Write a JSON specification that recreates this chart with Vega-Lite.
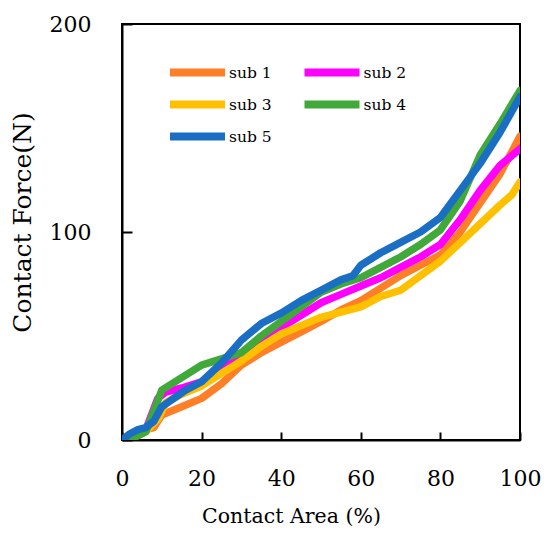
{
  "$schema": "https://vega.github.io/schema/vega-lite/v6.json",
  "width": 398,
  "height": 416,
  "autosize": {"type": "none"},
  "padding": {"left": 122, "top": 24, "right": 30, "bottom": 99},
  "background": "white",
  "data": {
    "values": [
      {"series": "sub 1", "area": 0, "force": 0},
      {"series": "sub 1", "area": 3, "force": 2},
      {"series": "sub 1", "area": 6, "force": 5},
      {"series": "sub 1", "area": 8, "force": 6},
      {"series": "sub 1", "area": 10, "force": 12},
      {"series": "sub 1", "area": 15, "force": 16},
      {"series": "sub 1", "area": 20, "force": 20},
      {"series": "sub 1", "area": 25, "force": 27},
      {"series": "sub 1", "area": 30, "force": 36},
      {"series": "sub 1", "area": 35, "force": 42},
      {"series": "sub 1", "area": 40, "force": 47},
      {"series": "sub 1", "area": 45, "force": 52},
      {"series": "sub 1", "area": 50, "force": 57},
      {"series": "sub 1", "area": 55, "force": 62.5},
      {"series": "sub 1", "area": 60, "force": 67},
      {"series": "sub 1", "area": 65, "force": 73},
      {"series": "sub 1", "area": 70, "force": 79},
      {"series": "sub 1", "area": 75, "force": 84},
      {"series": "sub 1", "area": 80, "force": 89},
      {"series": "sub 1", "area": 85, "force": 100},
      {"series": "sub 1", "area": 90, "force": 114},
      {"series": "sub 1", "area": 95, "force": 128},
      {"series": "sub 1", "area": 100, "force": 146},

      {"series": "sub 2", "area": 0, "force": 0},
      {"series": "sub 2", "area": 3, "force": 3},
      {"series": "sub 2", "area": 6, "force": 5},
      {"series": "sub 2", "area": 9, "force": 20},
      {"series": "sub 2", "area": 11, "force": 23},
      {"series": "sub 2", "area": 15, "force": 25},
      {"series": "sub 2", "area": 20, "force": 28},
      {"series": "sub 2", "area": 25, "force": 35},
      {"series": "sub 2", "area": 30, "force": 41},
      {"series": "sub 2", "area": 35, "force": 49},
      {"series": "sub 2", "area": 40, "force": 54},
      {"series": "sub 2", "area": 45, "force": 60},
      {"series": "sub 2", "area": 50, "force": 66},
      {"series": "sub 2", "area": 55, "force": 70},
      {"series": "sub 2", "area": 60, "force": 74},
      {"series": "sub 2", "area": 65, "force": 78},
      {"series": "sub 2", "area": 70, "force": 83},
      {"series": "sub 2", "area": 75, "force": 88},
      {"series": "sub 2", "area": 80, "force": 94},
      {"series": "sub 2", "area": 85, "force": 106},
      {"series": "sub 2", "area": 90, "force": 120},
      {"series": "sub 2", "area": 95, "force": 132},
      {"series": "sub 2", "area": 100, "force": 140},

      {"series": "sub 3", "area": 0, "force": 0},
      {"series": "sub 3", "area": 3, "force": 2},
      {"series": "sub 3", "area": 6, "force": 4},
      {"series": "sub 3", "area": 9, "force": 10},
      {"series": "sub 3", "area": 11, "force": 18},
      {"series": "sub 3", "area": 15, "force": 22},
      {"series": "sub 3", "area": 20, "force": 26},
      {"series": "sub 3", "area": 25, "force": 32},
      {"series": "sub 3", "area": 30, "force": 38},
      {"series": "sub 3", "area": 35, "force": 45},
      {"series": "sub 3", "area": 40, "force": 51},
      {"series": "sub 3", "area": 45, "force": 55},
      {"series": "sub 3", "area": 50, "force": 59},
      {"series": "sub 3", "area": 55, "force": 61.5},
      {"series": "sub 3", "area": 60, "force": 64},
      {"series": "sub 3", "area": 65, "force": 69},
      {"series": "sub 3", "area": 70, "force": 72},
      {"series": "sub 3", "area": 75, "force": 79},
      {"series": "sub 3", "area": 80, "force": 86},
      {"series": "sub 3", "area": 85, "force": 95},
      {"series": "sub 3", "area": 90, "force": 104},
      {"series": "sub 3", "area": 95, "force": 113},
      {"series": "sub 3", "area": 98, "force": 118},
      {"series": "sub 3", "area": 100, "force": 124},

      {"series": "sub 4", "area": 0, "force": 0},
      {"series": "sub 4", "area": 3, "force": 1},
      {"series": "sub 4", "area": 6, "force": 4},
      {"series": "sub 4", "area": 8, "force": 14},
      {"series": "sub 4", "area": 10, "force": 24},
      {"series": "sub 4", "area": 15, "force": 30},
      {"series": "sub 4", "area": 20, "force": 36},
      {"series": "sub 4", "area": 25, "force": 39},
      {"series": "sub 4", "area": 30, "force": 42},
      {"series": "sub 4", "area": 35, "force": 50},
      {"series": "sub 4", "area": 40, "force": 57},
      {"series": "sub 4", "area": 45, "force": 64},
      {"series": "sub 4", "area": 50, "force": 71},
      {"series": "sub 4", "area": 55, "force": 75},
      {"series": "sub 4", "area": 60, "force": 78},
      {"series": "sub 4", "area": 65, "force": 83},
      {"series": "sub 4", "area": 70, "force": 88},
      {"series": "sub 4", "area": 75, "force": 94},
      {"series": "sub 4", "area": 80, "force": 101},
      {"series": "sub 4", "area": 85, "force": 115},
      {"series": "sub 4", "area": 90, "force": 137},
      {"series": "sub 4", "area": 95, "force": 152},
      {"series": "sub 4", "area": 100, "force": 168},

      {"series": "sub 5", "area": 0, "force": 0},
      {"series": "sub 5", "area": 2, "force": 3},
      {"series": "sub 5", "area": 4, "force": 5},
      {"series": "sub 5", "area": 6, "force": 6},
      {"series": "sub 5", "area": 8, "force": 9},
      {"series": "sub 5", "area": 10, "force": 16},
      {"series": "sub 5", "area": 13, "force": 20},
      {"series": "sub 5", "area": 16, "force": 24},
      {"series": "sub 5", "area": 20, "force": 28},
      {"series": "sub 5", "area": 25, "force": 37},
      {"series": "sub 5", "area": 30, "force": 48},
      {"series": "sub 5", "area": 35, "force": 56},
      {"series": "sub 5", "area": 40, "force": 61},
      {"series": "sub 5", "area": 45, "force": 67},
      {"series": "sub 5", "area": 50, "force": 72},
      {"series": "sub 5", "area": 55, "force": 77},
      {"series": "sub 5", "area": 58, "force": 79},
      {"series": "sub 5", "area": 60, "force": 84},
      {"series": "sub 5", "area": 65, "force": 90},
      {"series": "sub 5", "area": 70, "force": 95},
      {"series": "sub 5", "area": 75, "force": 100},
      {"series": "sub 5", "area": 80, "force": 107},
      {"series": "sub 5", "area": 85, "force": 120},
      {"series": "sub 5", "area": 90, "force": 133},
      {"series": "sub 5", "area": 95, "force": 148},
      {"series": "sub 5", "area": 100, "force": 165}
    ]
  },
  "mark": {"type": "line", "strokeWidth": 7.5, "strokeCap": "round", "strokeJoin": "round", "clip": true},
  "encoding": {
    "x": {
      "field": "area",
      "type": "quantitative",
      "scale": {"domain": [0, 100], "nice": false},
      "axis": {
        "title": "Contact Area (%)",
        "values": [0, 20, 40, 60, 80, 100],
        "grid": false,
        "labelFlush": false,
        "tickSize": -8,
        "labelPadding": 36,
        "titleX": 169,
        "titleY": 82,
        "titleBaseline": "alphabetic",
        "titleFontSize": 20.5
      }
    },
    "y": {
      "field": "force",
      "type": "quantitative",
      "scale": {"domain": [0, 200], "nice": false},
      "axis": {
        "title": "Contact Force(N)",
        "values": [0, 100, 200],
        "grid": false,
        "labelFlush": false,
        "tickSize": -10,
        "labelPadding": 41,
        "titleX": -87,
        "titleY": 198,
        "titleFontSize": 25
      }
    },
    "color": {
      "field": "series",
      "type": "nominal",
      "scale": {
        "domain": ["sub 1", "sub 2", "sub 3", "sub 4", "sub 5"],
        "range": ["#FF7F27", "#FF00FF", "#FFC000", "#41A83A", "#1A6FC4"]
      },
      "legend": {
        "title": null,
        "orient": "none",
        "direction": "horizontal",
        "legendX": 67.5,
        "legendY": 40.5,
        "columns": 2,
        "symbolType": "M-6.875,0L6.875,0",
        "symbolSize": 64,
        "symbolStrokeWidth": 8,
        "symbolFillColor": "transparent",
        "labelOffset": 23.5,
        "columnPadding": 15.5,
        "rowPadding": 0,
        "labelFont": "DejaVu Serif",
        "labelFontSize": 15.5,
        "labelColor": "black"
      }
    }
  },
  "config": {
    "view": {"stroke": "black", "strokeWidth": 2},
    "axis": {
      "domainColor": "black",
      "domainWidth": 2,
      "tickColor": "black",
      "tickWidth": 2,
      "labelFont": "DejaVu Serif",
      "labelFontSize": 22,
      "labelColor": "black",
      "titleFont": "DejaVu Serif",
      "titleFontWeight": "normal",
      "titleColor": "black"
    }
  }
}
